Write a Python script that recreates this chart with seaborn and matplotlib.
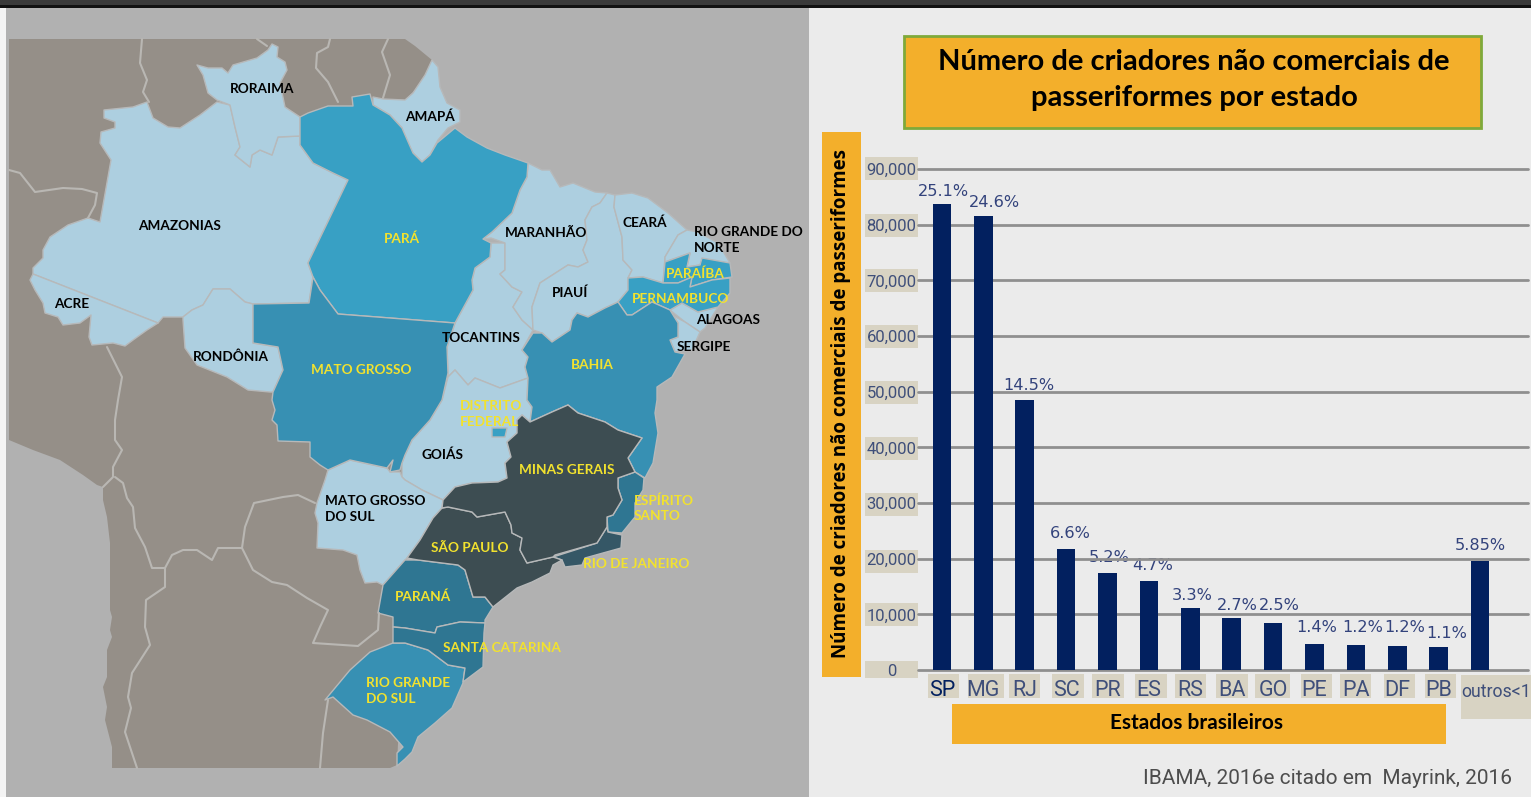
import seaborn as sns
import matplotlib.pyplot as plt
from matplotlib.patches import Rectangle, Polygon
from matplotlib.transforms import ScaledTranslation

# bar chart data
states = ["SP", "MG", "RJ", "SC", "PR", "ES", "RS", "BA", "GO", "PE", "PA", "DF", "PB", "outros<1"]
breeders = [83700, 81500, 48500, 21700, 17400, 16000, 11100, 9300, 8400, 4700, 4500, 4300, 4100, 19600]
percents = ["25.1%", "24.6%", "14.5%", "6.6%", "5.2%", "4.7%", "3.3%", "2.7%", "2.5%", "1.4%", "1.2%", "1.2%", "1.1%", "5.85%"]
yticks = [0, 10000, 20000, 30000, 40000, 50000, 60000, 70000, 80000, 90000]

# map outlines, in picture pixels
land = [(9,39),(405,39),(415,46),(432,60),(420,85),(405,100),(420,300),(400,700),(397,765),(390,768),(112,768),(112,747),(105,720),(107,707),(103,687),(107,677),(107,650),(112,637),(110,630),(112,617),(110,610),(110,543),(107,517),(103,500),(103,487),(97,485),(83,475),(60,460),(33,450),(9,440)]
amazonas = [(104,110),(133,107),(147,102),(153,118),(168,127),(180,128),(200,115),(217,102),(230,105),(235,127),(240,147),(235,155),(250,167),(252,155),(260,150),(272,155),(278,137),(300,136),(300,145),(313,163),(333,173),(348,180),(308,263),(313,277),(309,303),(253,304),(245,302),(230,289),(213,289),(203,305),(192,310),(183,317),(163,317),(158,323),(33,274),(33,268),(43,258),(43,250),(50,237),(68,225),(88,218),(100,222),(111,160),(100,143),(101,132),(115,128),(115,122),(104,118)]
acre = [(33,274),(158,323),(147,330),(133,340),(125,346),(113,343),(92,345),(89,337),(91,315),(80,323),(63,325),(58,317),(45,313),(43,303),(35,290),(30,280)]
roraima = [(197,65),(208,68),(222,68),(228,73),(233,65),(257,58),(268,50),(272,44),(278,47),(277,57),(285,62),(287,70),(280,83),(285,107),(300,117),(300,136),(278,137),(272,155),(260,150),(252,155),(250,167),(235,155),(240,147),(235,127),(230,105),(217,100),(208,93),(203,75)]
para = [(300,117),(308,113),(328,106),(353,106),(352,97),(370,94),(373,105),(390,115),(402,128),(413,153),(422,162),(430,155),(437,143),(455,128),(467,137),(487,148),(505,155),(528,163),(527,177),(520,190),(512,213),(492,232),(483,239),(491,243),(490,257),(475,268),(472,280),(473,290),(455,323),(338,314),(320,290),(313,277),(308,263),(348,180),(333,173),(313,163),(300,145)]
amapa = [(373,97),(383,99),(405,100),(413,93),(425,75),(432,60),(438,67),(440,87),(447,103),(460,110),(460,122),(448,128),(438,140),(430,155),(422,162),(413,153),(405,143),(402,128),(390,115),(373,105)]
mato_grosso = [(253,304),(309,303),(313,277),(320,290),(338,314),(455,323),(447,347),(448,373),(442,400),(430,420),(412,440),(405,455),(402,463),(400,470),(390,472),(393,460),(387,468),(350,460),(328,470),(320,465),(310,457),(310,442),(278,441),(277,425),(272,420),(275,410),(272,400),(273,392),(283,370),(278,347),(253,343)]
rondonia = [(253,304),(253,343),(278,347),(283,370),(273,392),(270,392),(248,390),(227,377),(197,365),(185,348),(183,320),(183,317),(192,310),(203,305),(213,289),(230,289),(245,302)]
tocantins = [(455,323),(473,290),(472,280),(475,268),(490,257),(491,243),(505,243),(505,270),(500,274),(512,287),(522,292),(513,307),(522,320),(533,330),(522,350),(528,357),(525,367),(528,378),(500,388),(475,378),(468,385),(455,370),(448,377),(447,347)]
maranhao = [(528,163),(542,170),(550,170),(560,187),(573,183),(595,192),(607,193),(600,203),(592,207),(585,220),(587,240),(583,250),(588,262),(578,267),(568,265),(540,283),(532,307),(533,330),(522,320),(513,307),(522,292),(512,287),(500,274),(505,270),(505,243),(491,238),(483,239),(492,232),(512,213),(520,190),(527,177)]
piaui = [(607,193),(615,195),(614,207),(622,237),(623,260),(632,270),(628,278),(628,290),(618,302),(605,308),(588,317),(577,313),(572,320),(570,330),(552,342),(542,333),(533,330),(532,307),(540,283),(568,265),(578,267),(588,262),(583,250),(587,240),(585,220),(592,207),(600,203)]
ceara = [(615,195),(632,193),(648,198),(668,213),(687,230),(678,235),(665,257),(663,283),(643,277),(628,278),(632,270),(623,260),(622,237),(614,207)]
rio_norte = [(687,230),(698,232),(718,243),(730,263),(702,260),(700,265),(687,267),(690,253),(665,262),(665,257),(678,235)]
paraiba = [(665,262),(690,253),(687,267),(700,265),(702,258),(730,263),(732,277),(712,280),(690,287),(692,277),(678,283),(663,283)]
pernambuco = [(643,277),(663,283),(678,283),(692,277),(690,287),(712,280),(730,278),(730,293),(718,307),(698,312),(682,303),(670,310),(652,302),(632,315),(627,315),(618,302),(628,290),(628,278)]
alagoas = [(670,310),(682,303),(698,312),(718,307),(705,328),(700,332),(685,322)]
sergipe = [(672,315),(685,322),(700,332),(692,350),(675,352),(670,340),(678,337),(678,323)]
bahia = [(522,350),(533,333),(542,333),(552,342),(570,330),(572,320),(577,313),(588,317),(605,308),(618,302),(627,315),(632,315),(652,302),(670,310),(678,323),(678,337),(670,340),(675,352),(685,354),(672,377),(657,387),(657,400),(655,413),(658,433),(653,463),(645,478),(635,472),(628,458),(642,438),(618,430),(605,422),(578,413),(568,405),(552,412),(530,422),(532,407),(527,400),(528,378),(525,367),(528,357)]
goias = [(448,377),(455,370),(468,385),(475,378),(500,388),(528,378),(527,400),(532,407),(530,422),(522,415),(517,420),(517,433),(507,442),(511,457),(505,463),(507,478),(498,482),(472,483),(455,487),(443,500),(422,490),(405,480),(402,477),(402,463),(405,455),(412,440),(430,420),(442,400)]
distrito = [(492,428),(507,428),(505,437),(492,437)]
mato_sul = [(328,470),(350,460),(387,468),(390,472),(400,472),(402,477),(405,480),(422,490),(443,500),(442,508),(433,518),(420,540),(407,558),(405,560),(383,585),(377,582),(365,583),(360,570),(357,555),(343,550),(317,548),(318,523),(315,513),(317,503),(325,480)]
sao_paulo = [(442,508),(448,507),(472,512),(477,517),(505,512),(511,525),(512,533),(522,538),(520,550),(527,563),(553,557),(562,560),(553,565),(550,573),(532,582),(517,588),(493,607),(485,597),(473,597),(465,570),(458,565),(418,560),(407,558),(420,540),(433,518)]
minas = [(442,508),(443,500),(455,487),(472,483),(498,482),(507,478),(505,463),(511,457),(507,442),(517,433),(517,420),(522,415),(530,422),(552,412),(568,405),(578,413),(605,422),(618,430),(642,438),(628,458),(635,472),(618,478),(618,488),(622,500),(613,515),(607,517),(607,527),(597,543),(555,555),(553,557),(527,563),(520,550),(522,538),(512,533),(511,525),(505,512),(477,517),(472,512),(448,507)]
espirito = [(618,478),(635,472),(644,478),(643,490),(635,503),(635,517),(622,533),(608,532),(607,517),(613,515),(622,500),(618,488)]
rio_janeiro = [(607,527),(608,532),(622,535),(621,548),(585,558),(582,565),(565,567),(562,560),(553,557),(597,543)]
parana = [(383,585),(378,613),(393,617),(393,627),(405,628),(435,633),(437,627),(460,622),(485,623),(485,620),(493,607),(485,597),(473,597),(465,570),(458,565),(418,560),(405,560)]
santa_cat = [(393,627),(405,628),(435,633),(437,627),(460,622),(485,623),(484,633),(483,667),(463,682),(465,668),(448,665),(428,650),(405,643),(393,643)]
rio_sul = [(325,700),(350,670),(370,652),(393,643),(405,643),(428,650),(448,665),(465,668),(463,683),(452,708),(435,723),(418,737),(412,752),(405,759),(397,766),(397,753),(403,747),(390,732),(367,720),(353,715),(333,697)]

neighbour_lines = [
    [(142,39),(140,63),(147,80),(143,92),(149,102)],
    [(257,39),(267,46)],
    [(330,39),(328,47),(317,53),(316,68),(328,82),(338,102)],
    [(388,39),(382,52),(390,75),(383,98)],
    [(9,170),(20,173),(35,192),(63,188),(82,189),(97,193),(95,205),(88,218)],
    [(107,347),(122,377),(118,400),(115,420),(115,440),(122,450),(113,467),(113,477),(103,487)],
    [(115,477),(123,483),(127,498),(133,507),(135,528),(145,547),(152,568),(165,568),(165,587),(146,600),(145,627),(150,645),(132,673),(128,697),(131,708),(125,732),(137,768)],
    [(165,568),(172,555),(183,550),(197,550),(212,560),(218,548),(242,548),(245,527),(254,503),(283,497),(298,495),(315,503)],
    [(242,548),(253,570),(272,582),(287,585),(307,598),(328,610),(320,627),(313,643),(358,646),(378,630),(379,613)],
    [(328,700),(323,733),(320,768)],
]

# name, x, y, colour, alignment
map_labels = [
    ("RORAIMA", 262, 88, "k", "center"), ("AMAPÁ", 430, 116, "k", "center"),
    ("AMAZONIAS", 180, 225, "k", "center"), ("PARÁ", 402, 238, "y", "center"),
    ("MARANHÃO", 546, 232, "k", "center"), ("CEARÁ", 645, 222, "k", "center"),
    ("RIO GRANDE DO\nNORTE", 694, 239, "k", "left"), ("PARAÍBA", 695, 273, "y", "center"),
    ("PIAUÍ", 570, 292, "k", "center"), ("PERNAMBUCO", 681, 298, "y", "center"),
    ("ALAGOAS", 728, 319, "k", "center"), ("ACRE", 72, 303, "k", "center"),
    ("TOCANTINS", 481, 337, "k", "center"), ("SERGIPE", 704, 346, "k", "center"),
    ("RONDÔNIA", 231, 356, "k", "center"), ("MATO GROSSO", 361, 369, "y", "center"),
    ("BAHIA", 592, 364, "y", "center"), ("DISTRITO\nFEDERAL", 460, 413, "y", "left"),
    ("GOIÁS", 442, 454, "k", "center"), ("MINAS GERAIS", 567, 469, "y", "center"),
    ("MATO GROSSO\nDO SUL", 325, 508, "k", "left"), ("ESPÍRITO\nSANTO", 634, 507, "y", "left"),
    ("SÃO PAULO", 470, 547, "y", "center"), ("RIO DE JANEIRO", 636, 563, "y", "center"),
    ("PARANÁ", 423, 596, "y", "center"), ("SANTA CATARINA", 502, 647, "y", "center"),
    ("RIO GRANDE\nDO SUL", 366, 690, "y", "left"),
]

# boxes behind the tick labels: left, right
xtick_boxes = [(928,959),(968,1004),(1009,1040),(1052,1084),(1092,1124),(1135,1167),(1175,1206),(1216,1248),(1255,1290),(1301,1332),(1340,1371),(1384,1415),(1425,1456)]
ytick_centers = [669, 614, 561, 504, 448, 392, 336, 280, 225, 168]
percent_x = [943, 994, 1029, 1070, 1109, 1153, 1192, 1237, 1279, 1317, 1363, 1405, 1447, 1480]
percent_y = [191, 202, 385, 534, 557, 566, 595, 606, 606, 627, 627, 627, 633, 546]

orange = "#F3AF2B"
beige = "#D8D3C3"
navy = "#02205F"
ink = "#3F4F7A"
light = "#ADCFE0"
teal = "#38A0C4"
mid = "#3790B3"
deep = "#2F7692"
dark = "#3D4D52"
yellow = "#F2E22E"

sns.set_theme(style="white")
plt.rcParams["font.family"] = ["Roboto", "DejaVu Sans"]

fig = plt.figure(figsize=(15.31, 7.97), dpi=100, facecolor="#EBEBEB")

canvas = fig.add_axes([0, 0, 1, 1])
canvas.set_xlim(0, 1531)
canvas.set_ylim(797, 0)
canvas.axis("off")

# top strip and sea
canvas.add_patch(Rectangle((0, 0), 1531, 5, color="#3A3A3A", lw=0))
canvas.add_patch(Rectangle((0, 5), 1531, 3, color="#111111", lw=0))
canvas.add_patch(Rectangle((0, 8), 6, 789, color="#F4F4F4", lw=0))
canvas.add_patch(Rectangle((6, 8), 803, 789, color="#B1B1B1", lw=0))
canvas.add_patch(Polygon(land, closed=True, color="#958F88", lw=0))

for line in neighbour_lines:
    canvas.plot([p[0] for p in line], [p[1] for p in line], color="#B9B7B3", lw=1.5)

shapes = [
    (amazonas, light), (acre, light), (roraima, light), (amapa, light), (rondonia, light),
    (tocantins, light), (maranhao, light), (piaui, light), (ceara, light), (rio_norte, light),
    (alagoas, light), (sergipe, light), (goias, light), (mato_sul, light),
    (para, teal), (paraiba, teal), (pernambuco, teal), (distrito, teal),
    (mato_grosso, mid), (bahia, mid), (rio_sul, mid),
    (parana, deep), (santa_cat, deep), (espirito, deep), (rio_janeiro, "#355766"),
    (sao_paulo, dark), (minas, dark),
]
for outline, colour in shapes:
    canvas.add_patch(Polygon(outline, closed=True, facecolor=colour, edgecolor="#B7B9BA", lw=1, joinstyle="round"))

for name, x, y, colour, align in map_labels:
    canvas.text(x, y + 1, name, color=yellow if colour == "y" else "black", ha=align, va="center",
                family="Lato", weight="bold", fontsize=9.8, linespacing=1.35)

# title box and label boxes
canvas.add_patch(Rectangle((904, 36), 577, 92, facecolor=orange, edgecolor="#7FA93A", lw=2))
canvas.text(1194, 80, "Número de criadores não comerciais de\npasseriformes por estado", ha="center", va="center",
            family="Lato", weight="bold", fontsize=21, color="black", linespacing=1.45)
canvas.add_patch(Rectangle((822, 132), 39, 545, color=orange, lw=0))
canvas.add_patch(Rectangle((952, 704), 494, 40, color=orange, lw=0))
for c in ytick_centers:
    h = 17 if c == 669 else 23
    canvas.add_patch(Rectangle((865, c - h / 2), 53, h, color=beige, lw=0))
for left, right in xtick_boxes:
    canvas.add_patch(Rectangle((left, 674), right - left, 24, color=beige, lw=0))
canvas.add_patch(Rectangle((1461, 675), 70, 44, color=beige, lw=0))

# bar chart, axes sit on the pixel positions of the gridlines
ax = fig.add_axes([918 / 1531, (797 - 670) / 797, 610 / 1531, 501 / 797], facecolor="none")
sns.barplot(x=states, y=breeders, color=navy, width=0.45, saturation=1, linewidth=0, ax=ax, zorder=3)
ax.set_xlim(-0.58, 14.16)
ax.set_ylim(0, 90000)
sns.despine(ax=ax, left=True, bottom=True)
ax.set_yticks(yticks)
ax.set_yticklabels(["0"] + [f"{v:,}" for v in yticks[1:]], fontsize=12, color=ink, ha="center")
ax.tick_params(axis="y", length=0, pad=19)
ax.tick_params(axis="x", length=0, pad=7, labelsize=15.5, labelcolor=ink)
ax.grid(axis="y", color="#8F8F8F", lw=2, clip_on=False)
ax.set_axisbelow(True)
ax.get_xticklabels()[0].set_color(navy)
last = ax.get_xticklabels()[-1]
last.set_fontsize(12.8)
last.set_ha("left")
last.set_transform(last.get_transform() + ScaledTranslation(-0.19, -0.03, fig.dpi_scale_trans))

ax.set_ylabel("Número de criadores não comerciais de passeriformes", family="Open Sans", weight="bold",
              fontsize=13.5, color="black", va="center")
ax.yaxis.set_label_coords((841 - 918) / 610, (670 - 404) / 501)
ax.set_xlabel("Estados brasileiros", family="Lato", weight="bold", fontsize=15, color="black", va="center")
ax.xaxis.set_label_coords((1197 - 918) / 610, (670 - 723) / 501)

for label, x, y in zip(percents, percent_x, percent_y):
    canvas.text(x, y, label, ha="center", va="center", fontsize=11.6, family="DejaVu Sans", color="#33437C", zorder=5)

canvas.text(1512, 778, "IBAMA, 2016e citado em  Mayrink, 2016", ha="right", va="center",
            fontsize=15, color="#4D4D4D")

fig.savefig("out.png", dpi=100, facecolor=fig.get_facecolor())
